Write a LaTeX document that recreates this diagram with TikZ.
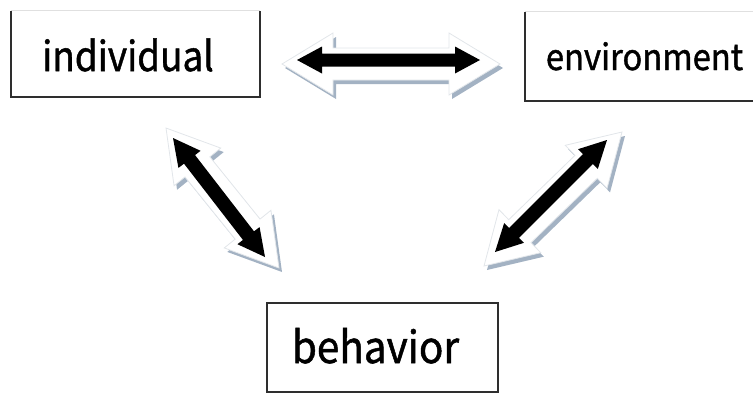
\documentclass[tikz,border=0pt]{standalone}
\usepackage{fontspec}
\setmainfont{Noto Sans CJK SC}
\newfontfamily\lblfont{Noto Sans CJK SC}[FakeBold=1.2]
\usetikzlibrary{calc}
\definecolor{boxline}{HTML}{2E2E2E}
\definecolor{shadowblue}{HTML}{A3B2C3}
\definecolor{outerline}{HTML}{E2E6EA}
\newcommand{\fatarrow}[6]{%
  \path[#6] (#1)
   -- ($(#1)!#3!(#2)!#5!90:(#2)$)
   -- ($(#1)!#3!(#2)!#4!90:(#2)$)
   -- ($(#2)!#3!(#1)!#4!-90:(#1)$)
   -- ($(#2)!#3!(#1)!#5!-90:(#1)$)
   -- (#2)
   -- ($(#2)!#3!(#1)!#5!90:(#1)$)
   -- ($(#2)!#3!(#1)!#4!90:(#1)$)
   -- ($(#1)!#3!(#2)!#4!-90:(#2)$)
   -- ($(#1)!#3!(#2)!#5!-90:(#2)$)
   -- cycle;}
\tikzset{
  boxnode/.style={rectangle, inner sep=0pt, draw=none},
  label text/.style={anchor=base, inner sep=0pt, text=black, transform shape},
  boxedge/.style={draw=boxline, line width=1.6pt},
  boxtop/.style={draw=black!12, line width=1pt},
  shadowpart/.style={fill=shadowblue, transform canvas={shift={(3pt,-4pt)}}},
  outerpart/.style={fill=white, draw=outerline, line width=0.8pt, line join=miter},
  innerpart/.style={fill=black, line join=miter},
}
\begin{document}
\begin{tikzpicture}[x=1pt,y=-1pt]
\useasboundingbox (0,0) rectangle (753,397);
\clip (0,0) rectangle (753,397);
% boxes
\node[boxnode, minimum width=249pt, minimum height=86pt] (ind) at (135.5,54) {};
\node[boxnode, minimum width=240pt, minimum height=89pt] (env) at (645,56.5) {};
\node[boxnode, minimum width=231pt, minimum height=89pt] (beh) at (382.5,347.5) {};
\draw[boxtop] (ind.north west) -- (ind.north east);
\draw[boxedge] (ind.north west) -- (ind.south west) -- (ind.south east) -- (ind.north east);
\draw[boxtop] (env.north west) -- (env.north east);
\draw[boxedge] (env.north west) -- (env.south west) -- (env.south east);
\draw[boxedge] (beh.north west) rectangle (beh.south east);
% texts
\node[label text, xscale=0.9, font=\lblfont\fontsize{41}{41}\selectfont] (indt) at (128,71) {individual};
\node[label text, xscale=0.91, font=\lblfont\fontsize{36}{36}\selectfont] (envt) at (644.5,70) {environment};
\node[label text, xscale=0.92, font=\lblfont\fontsize{44}{44}\selectfont] (beht) at (375.5,363) {behavior};
% arrow end coordinates
\coordinate (hA) at (297,60);  \coordinate (hB) at (480,60);
\coordinate (hoA) at (282,64); \coordinate (hoB) at (500,64);
\coordinate (lA) at (173,138); \coordinate (lB) at (265,257);
\coordinate (loA) at (166,128); \coordinate (loB) at (279,268);
\coordinate (rA) at (607,140); \coordinate (rB) at (495,252);
\coordinate (roA) at (622,132); \coordinate (roB) at (484,266);
% shadows
\fatarrow{hoA}{hoB}{51pt}{16pt}{31pt}{shadowpart}
\fatarrow{loA}{loB}{50pt}{16pt}{30pt}{shadowpart}
\fatarrow{roA}{roB}{50pt}{16pt}{30pt}{shadowpart}
% outer white shapes
\fatarrow{hoA}{hoB}{51pt}{16pt}{31pt}{outerpart}
\fatarrow{loA}{loB}{50pt}{16pt}{30pt}{outerpart}
\fatarrow{roA}{roB}{50pt}{16pt}{30pt}{outerpart}
% black arrows
\fatarrow{hA}{hB}{25pt}{6.5pt}{13.5pt}{innerpart}
\fatarrow{lA}{lB}{27pt}{7pt}{14pt}{innerpart}
\fatarrow{rA}{rB}{27pt}{7pt}{14pt}{innerpart}
\end{tikzpicture}
\end{document}
